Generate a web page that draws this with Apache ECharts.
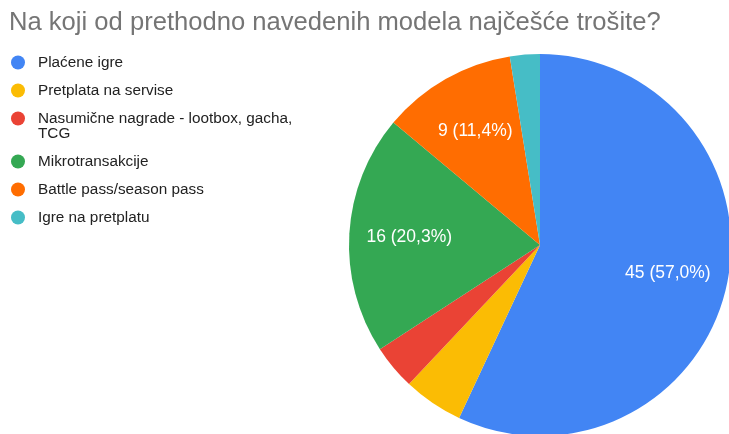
<!DOCTYPE html>
<html>
<head>
<meta charset="utf-8">
<script src="https://cdn.jsdelivr.net/npm/echarts@6/dist/echarts.min.js"></script>
<style>
  html, body { margin: 0; padding: 0; background: #fff; }
  #chart { width: 729px; height: 434px; }
</style>
</head>
<body>
<div id="chart"></div>
<script>
const categories = ['Plaćene igre', 'Pretplata na servise', 'Nasumične nagrade - lootbox, gacha, TCG', 'Mikrotransakcije', 'Battle pass/season pass', 'Igre na pretplatu']
const values = [45, 4, 3, 16, 9, 2]
const colors = ['#4285F4', '#FBBC04', '#EA4335', '#34A853', '#FF6D01', '#46BDC6']

const total = values.reduce((a, b) => a + b, 0)
const pieData = categories.map((name, i) => ({ name, value: values[i] }))

// simple word wrap for long legend names
const wrap = (text, maxChars) => {
  const words = text.split(' ')
  const lines = []
  let line = ''
  words.forEach(w => {
    if (line && (line + ' ' + w).length > maxChars) {
      lines.push(line)
      line = w
    } else {
      line = line ? line + ' ' + w : w
    }
  })
  if (line) lines.push(line)
  return lines
}

const rich = { t: { fontSize: 15.3, color: '#222', lineHeight: 15, fontFamily: 'Liberation Sans, Arial, sans-serif' }, ind: { width: 27 } }
colors.forEach((c, i) => {
  rich['d' + i] = { width: 14, height: 14, borderRadius: 7, backgroundColor: c, lineHeight: 15 }
  rich['g' + i] = { width: 13 }
})

const chart = echarts.init(document.getElementById('chart'))
const option = {
  animation: false,
  title: {
    text: 'Na koji od prethodno navedenih modela najčešće trošite?',
    left: 4,
    top: 5,
    textStyle: { fontSize: 25.6, fontWeight: 'normal', color: '#757575', fontFamily: 'Liberation Sans, Arial, sans-serif' }
  },
  legend: {
    orient: 'vertical',
    left: 1,
    top: 50,
    icon: 'none',
    itemWidth: 0,
    itemHeight: 15,
    itemGap: 13,
    data: categories,
    formatter: (name) => {
      const i = categories.indexOf(name)
      return wrap(name, 36).map((l, k) => (k === 0 ? '{d' + i + '|}{g' + i + '|}' : '{ind|}') + '{t|' + l + '}').join('\n')
    },
    textStyle: { rich }
  },
  series: [
    {
      type: 'pie',
      center: [540, 245],
      radius: 191,
      startAngle: 90,
      color: colors,
      data: pieData,
      label: { show: false },
      labelLine: { show: false },
      emphasis: { disabled: true }
    },
    {
      // transparent copy, only used to place the labels further out
      type: 'pie',
      center: [540, 245],
      radius: 256,
      startAngle: 90,
      silent: true,
      data: pieData,
      itemStyle: { color: 'rgba(0,0,0,0)' },
      label: {
        show: true,
        position: 'inside',
        color: '#fff',
        fontSize: 17.5,
        fontFamily: 'Liberation Sans, Arial, sans-serif',
        formatter: (p) => p.value / total < 0.08 ? '' : p.value + ' (' + (p.value / total * 100).toFixed(1).replace('.', ',') + '%)'
      },
      labelLine: { show: false },
      emphasis: { disabled: true }
    }
  ]
}
chart.setOption(option)
window.addEventListener('resize', () => {
  chart.resize()
})
</script>
</body>
</html>
